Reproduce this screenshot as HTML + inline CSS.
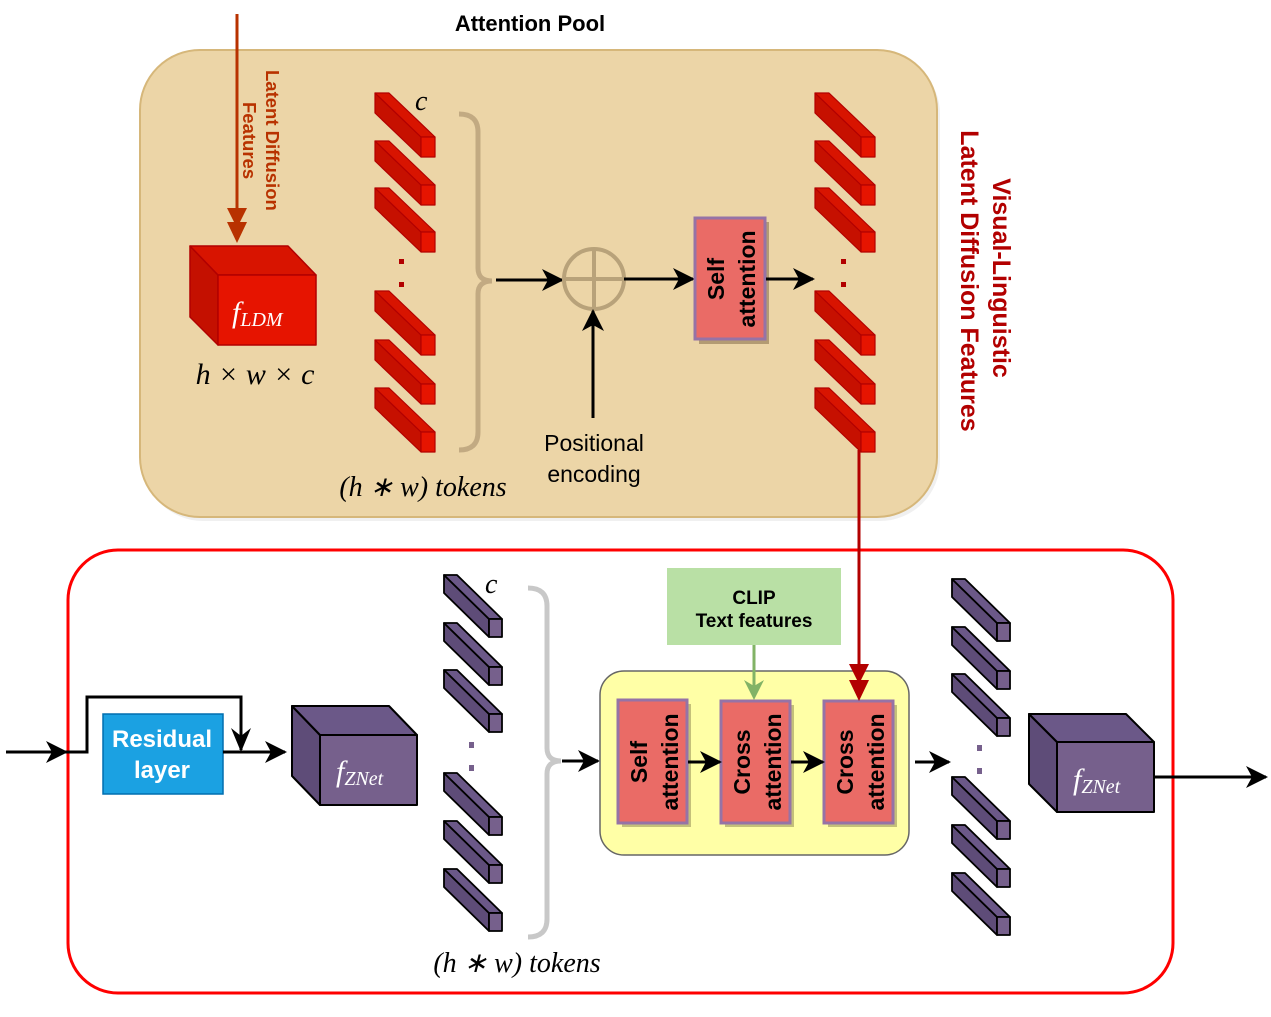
<!DOCTYPE html>
<html><head><meta charset="utf-8"><style>
html,body{margin:0;padding:0;background:#fff;}
svg{display:block;font-family:"Liberation Sans",sans-serif;}
.m{font-family:"Liberation Serif",serif;font-style:italic;}
</style></head><body>
<svg width="1271" height="1017" viewBox="0 0 1271 1017" xmlns="http://www.w3.org/2000/svg">
<defs>
<marker id="ar" markerWidth="22" markerHeight="22" refX="20" refY="11" orient="auto" markerUnits="userSpaceOnUse"><path d="M0,0 L22,11 L0,22 L6,11Z" fill="#000"/></marker>
<g id="rt" stroke="#b20000" stroke-width="1.2" stroke-linejoin="round">
<polygon points="0,0 46,44 46,64 0,20" fill="#c61000"/>
<polygon points="0,0 14,0 60,44 46,44" fill="#d81400"/>
<rect x="46" y="44" width="14" height="20" fill="#e61400"/>
</g>
<g id="pt" stroke="#000" stroke-width="1.8" stroke-linejoin="round">
<polygon points="0,0 45,44 45,62 0,18" fill="#5e4c78"/>
<polygon points="0,0 13,0 58,44 45,44" fill="#6b5888"/>
<rect x="45" y="44" width="13" height="18" fill="#76608c"/>
</g>
</defs>

<rect x="143" y="54" width="797" height="467" rx="60" fill="#e6e6e6" opacity="0.6"/>
<rect x="140" y="50" width="797" height="467" rx="60" fill="#ecd5a7" stroke="#d6b77a" stroke-width="2"/>
<text x="530" y="31" font-size="22" font-weight="bold" text-anchor="middle">Attention Pool</text>

<line x1="237" y1="14" x2="237" y2="222" stroke="#b83200" stroke-width="3"/>
<path d="M227,208 L237,228 L247,208Z M227,222 L237,243 L247,222Z" fill="#b83200"/>
<text transform="translate(266,70) rotate(90)" font-size="18.5" font-weight="bold" fill="#b83200">Latent Diffusion</text>
<text transform="translate(243,102) rotate(90)" font-size="18.5" font-weight="bold" fill="#b83200">Features</text>

<g stroke="#b20000" stroke-width="1.5" stroke-linejoin="round">
<polygon points="190,246 218,275 218,345 190,317" fill="#c41000"/>
<polygon points="190,246 288,246 316,275 218,275" fill="#d81400"/>
<rect x="218" y="275" width="98" height="70" fill="#e61400"/>
</g>
<text x="232" y="322" class="m" font-size="30" fill="#fff">f<tspan font-size="20" dy="4">LDM</tspan></text>
<text x="255" y="384" class="m" font-size="30" text-anchor="middle">h × w × c</text>

<use href="#rt" x="375" y="93"/><use href="#rt" x="375" y="141"/><use href="#rt" x="375" y="188"/>
<use href="#rt" x="375" y="291"/><use href="#rt" x="375" y="340"/><use href="#rt" x="375" y="388"/>
<rect x="399" y="259" width="5" height="5" fill="#b20000"/><rect x="399" y="282" width="5" height="5" fill="#b20000"/>
<text x="415" y="110" class="m" font-size="28">c</text>
<path d="M459,114 Q478,114 478,132 L478,268 Q478,281 492,281 Q478,281 478,294 L478,432 Q478,450 459,450" fill="none" stroke="#c2aa82" stroke-width="5"/>
<text x="423" y="496" class="m" font-size="28" text-anchor="middle">(h ∗ w) tokens</text>

<line x1="496" y1="280" x2="562" y2="280" stroke="#000" stroke-width="3" marker-end="url(#ar)"/>
<circle cx="594" cy="279" r="30" fill="none" stroke="#b8a27a" stroke-width="4"/>
<line x1="564" y1="279" x2="624" y2="279" stroke="#b8a27a" stroke-width="4"/>
<line x1="594" y1="249" x2="594" y2="309" stroke="#b8a27a" stroke-width="4"/>
<line x1="593" y1="418" x2="593" y2="311" stroke="#000" stroke-width="3" marker-end="url(#ar)"/>
<text x="594" y="451" font-size="23" text-anchor="middle">Positional</text>
<text x="594" y="482" font-size="23" text-anchor="middle">encoding</text>
<line x1="624" y1="279" x2="693" y2="279" stroke="#000" stroke-width="3" marker-end="url(#ar)"/>

<rect x="699" y="222" width="70" height="122" fill="#b39b73"/>
<rect x="695" y="218" width="70" height="121" fill="#ea6b66" stroke="#9673a6" stroke-width="3"/>
<text transform="translate(724,279) rotate(-90)" font-size="23" font-weight="bold" text-anchor="middle">Self</text>
<text transform="translate(755,279) rotate(-90)" font-size="23" font-weight="bold" text-anchor="middle">attention</text>
<line x1="766" y1="279" x2="813" y2="279" stroke="#000" stroke-width="3" marker-end="url(#ar)"/>

<use href="#rt" x="815" y="93"/><use href="#rt" x="815" y="141"/><use href="#rt" x="815" y="188"/>
<use href="#rt" x="815" y="291"/><use href="#rt" x="815" y="340"/><use href="#rt" x="815" y="388"/>
<rect x="841" y="259" width="5" height="5" fill="#b20000"/><rect x="841" y="282" width="5" height="5" fill="#b20000"/>

<text transform="translate(993,278) rotate(90)" font-size="25" font-weight="bold" fill="#b20000" text-anchor="middle">Visual-Linguistic</text>
<text transform="translate(961,281) rotate(90)" font-size="25" font-weight="bold" fill="#b20000" text-anchor="middle">Latent Diffusion Features</text>

<rect x="68" y="550" width="1105" height="443" rx="50" fill="none" stroke="#f00" stroke-width="3"/>

<line x1="6" y1="752" x2="66" y2="752" stroke="#000" stroke-width="3" marker-end="url(#ar)"/>
<polyline points="66,752 87,752 87,697 241,697 241,750" fill="none" stroke="#000" stroke-width="3"/>
<path d="M231,728 L241,752 L251,728 L241,736Z" fill="#000"/>
<rect x="103" y="714" width="120" height="80" fill="#1ba1e2" stroke="#006eaf" stroke-width="1.5"/>
<text x="162" y="747" font-size="24" font-weight="bold" fill="#fff" text-anchor="middle">Residual</text>
<text x="162" y="778" font-size="24" font-weight="bold" fill="#fff" text-anchor="middle">layer</text>
<line x1="223" y1="752" x2="285" y2="752" stroke="#000" stroke-width="3" marker-end="url(#ar)"/>

<g stroke="#000" stroke-width="2" stroke-linejoin="round">
<polygon points="292,706 320,735 320,805 292,776" fill="#5e4c78"/>
<polygon points="292,706 389,706 417,735 320,735" fill="#6b5888"/>
<rect x="320" y="735" width="97" height="70" fill="#76608c"/>
</g>
<text x="336" y="781" class="m" font-size="30" fill="#fff">f<tspan font-size="20" dy="4">ZNet</tspan></text>

<use href="#pt" x="444" y="575"/><use href="#pt" x="444" y="623"/><use href="#pt" x="444" y="670"/>
<use href="#pt" x="444" y="773"/><use href="#pt" x="444" y="821"/><use href="#pt" x="444" y="869"/>
<rect x="469" y="742" width="5" height="6" fill="#76608c"/><rect x="469" y="765" width="5" height="6" fill="#76608c"/>
<text x="485" y="593" class="m" font-size="28">c</text>
<path d="M528,588 Q547,588 547,606 L547,748 Q547,761 561,761 Q547,761 547,774 L547,919 Q547,937 528,937" fill="none" stroke="#c8c8c8" stroke-width="5"/>
<text x="517" y="972" class="m" font-size="28" text-anchor="middle">(h ∗ w) tokens</text>
<line x1="562" y1="761" x2="598" y2="761" stroke="#000" stroke-width="3" marker-end="url(#ar)"/>

<rect x="667" y="568" width="174" height="77" fill="#b9e0a5"/>
<text x="754" y="604" font-size="19" font-weight="bold" text-anchor="middle">CLIP</text>
<text x="754" y="627" font-size="19" font-weight="bold" text-anchor="middle">Text features</text>

<rect x="600" y="671" width="309" height="184" rx="24" fill="#ffffa6" stroke="#666" stroke-width="1.5"/>
<g font-size="23" font-weight="bold" text-anchor="middle">
<rect x="622" y="704" width="69" height="123" fill="#c4c07a"/>
<rect x="618" y="700" width="69" height="123" fill="#ea6b66" stroke="#9673a6" stroke-width="3"/>
<text transform="translate(647,762) rotate(-90)">Self</text>
<text transform="translate(678,762) rotate(-90)">attention</text>
<rect x="725" y="705" width="69" height="122" fill="#c4c07a"/>
<rect x="721" y="701" width="69" height="122" fill="#ea6b66" stroke="#9673a6" stroke-width="3"/>
<text transform="translate(750,762) rotate(-90)">Cross</text>
<text transform="translate(781,762) rotate(-90)">attention</text>
<rect x="828" y="705" width="69" height="122" fill="#c4c07a"/>
<rect x="824" y="701" width="69" height="122" fill="#ea6b66" stroke="#9673a6" stroke-width="3"/>
<text transform="translate(853,762) rotate(-90)">Cross</text>
<text transform="translate(884,762) rotate(-90)">attention</text>
</g>
<line x1="688" y1="762" x2="720" y2="762" stroke="#000" stroke-width="3" marker-end="url(#ar)"/>
<line x1="791" y1="762" x2="823" y2="762" stroke="#000" stroke-width="3" marker-end="url(#ar)"/>
<line x1="915" y1="762" x2="949" y2="762" stroke="#000" stroke-width="3" marker-end="url(#ar)"/>

<!-- arrows into yellow block (drawn on top) -->
<line x1="754" y1="645" x2="754" y2="690" stroke="#82b366" stroke-width="3"/>
<path d="M744,680 L754,700 L764,680 L754,686Z" fill="#82b366"/>
<line x1="859" y1="450" x2="859" y2="685" stroke="#b20000" stroke-width="3"/>
<path d="M849,664 L859,684 L869,664Z M849,680 L859,701 L869,680Z" fill="#b20000"/>

<use href="#pt" x="952" y="579"/><use href="#pt" x="952" y="627"/><use href="#pt" x="952" y="674"/>
<use href="#pt" x="952" y="777"/><use href="#pt" x="952" y="825"/><use href="#pt" x="952" y="873"/>
<rect x="977" y="745" width="5" height="6" fill="#76608c"/><rect x="977" y="768" width="5" height="6" fill="#76608c"/>

<g stroke="#000" stroke-width="2" stroke-linejoin="round">
<polygon points="1029,714 1057,742 1057,812 1029,784" fill="#5e4c78"/>
<polygon points="1029,714 1126,714 1154,742 1057,742" fill="#6b5888"/>
<rect x="1057" y="742" width="97" height="70" fill="#76608c"/>
</g>
<text x="1073" y="789" class="m" font-size="30" fill="#fff">f<tspan font-size="20" dy="4">ZNet</tspan></text>
<line x1="1154" y1="777" x2="1266" y2="777" stroke="#000" stroke-width="3" marker-end="url(#ar)"/>
</svg>
</body></html>
